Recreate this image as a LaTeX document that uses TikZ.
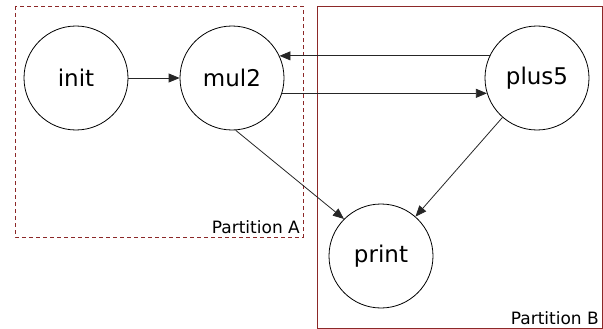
\documentclass[tikz,border=0pt]{standalone}
\usepackage{fontspec}
\setmainfont{DejaVu Sans}
\usetikzlibrary{arrows.meta}
\definecolor{partred}{RGB}{140,40,40}
\tikzset{
  task/.style={circle,draw,line width=0.8pt,minimum size=104pt,inner sep=0pt,font=\fontsize{23}{26}\selectfont},
  flow/.style={line width=0.8pt,draw=black!85,-{Triangle[length=11pt,width=9pt]}},
  partbox/.style={draw=partred,line width=0.9pt},
  partlabel/.style={anchor=south east,inner sep=3pt,font=\fontsize{17}{20}\selectfont}
}
\begin{document}
\begin{tikzpicture}[x=1pt,y=-1pt,line cap=butt,line join=miter]
  \useasboundingbox (0,0) rectangle (603,329);
  % partitions
  \draw[partbox,dash pattern=on 4pt off 3pt] (15,6) rectangle (303,237);
  \draw[partbox] (317,6) rectangle (602,328);
  \node[partlabel] (labA) at (303,237) {Partition A};
  \node[partlabel] (labB) at (602,328) {Partition B};
  % tasks
  \node[task] (init) at (76,78) {init};
  \node[task] (mul2) at (232,78) {mul2};
  \node[task] (plus5) at (537,78) {plus5};
  \node[task] (print) at (381,256) {print};
  % edges
  \draw[flow] (init) -- (mul2);
  \draw[flow] (plus5.155) -- (mul2.25);
  \draw[flow] (mul2.-17) -- (plus5.197);
  \draw[flow] (mul2.-86) -- (print.135);
  \draw[flow] (plus5) -- (print);
\end{tikzpicture}
\end{document}
